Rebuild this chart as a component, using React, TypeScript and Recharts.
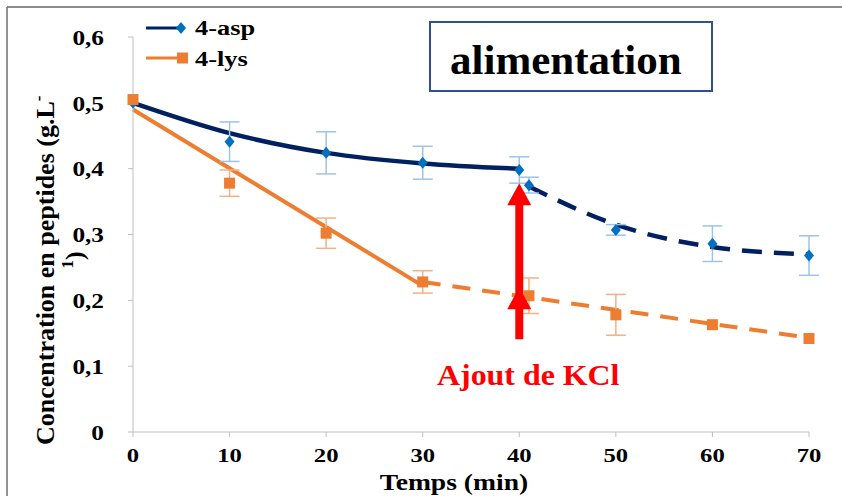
import React from 'react';
import {
  ComposedChart,
  ErrorBar,
  Line,
  ReferenceDot,
  ReferenceLine,
  Scatter,
  XAxis,
  YAxis,
} from 'recharts';

const timeTicks = [0, 10, 20, 30, 40, 50, 60, 70];
const concTicks = [0, 0.1, 0.2, 0.3, 0.4, 0.5, 0.6];

// mesures 4-asp
const aspTimes = [0, 10, 20, 30, 40, 41, 50, 60, 70];
const aspValues = [0.5, 0.441, 0.424, 0.409, 0.398, 0.375, 0.307, 0.286, 0.268];
const aspErrors = [0, 0.03, 0.032, 0.025, 0.02, 0.012, 0.008, 0.027, 0.03];

// mesures 4-lys
const lysTimes = [0, 10, 20, 30, 41, 50, 60, 70];
const lysValues = [0.505, 0.378, 0.302, 0.228, 0.207, 0.178, 0.163, 0.142];
const lysErrors = [0, 0.02, 0.023, 0.017, 0.027, 0.031, 0, 0];

// courbes de tendance
const aspFitTimes = [0, 10, 20, 30, 40];
const aspFitValues = [0.5, 0.454, 0.424, 0.408, 0.4];
const aspFitDashTimes = [41, 50, 60, 70];
const aspFitDashValues = [0.373, 0.315, 0.281, 0.27];
const lysFitTimes = [0, 30];
const lysFitValues = [0.49, 0.222];
const lysFitDashTimes = [30, 70];
const lysFitDashValues = [0.228, 0.143];

// flèche "Ajout de KCl"
const kclTime = 40;
const kclArrowBottom = 0.141;
const kclArrowTop = 0.36;
const kclArrowHeads = [0.378, 0.22];

const FONT = "'Liberation Serif', 'Times New Roman', serif";
const NAVY = '#002060';
const BLUE = '#0070C0';
const ORANGE = '#ED7D31';

const toPoints = (ts: number[], vs: number[], errs?: number[]) =>
  ts.map((t, i) => ({ t, c: vs[i], err: errs ? errs[i] : 0 }));

const aspPoints = toPoints(aspTimes, aspValues, aspErrors);
const lysPoints = toPoints(lysTimes, lysValues, lysErrors);
const aspFit = toPoints(aspFitTimes, aspFitValues);
const aspFitDash = toPoints(aspFitDashTimes, aspFitDashValues);
const lysFit = toPoints(lysFitTimes, lysFitValues);
const lysFitDash = toPoints(lysFitDashTimes, lysFitDashValues);

const fmt = (v: number) => String(Math.round(v * 10) / 10).replace('.', ',');

function XTick({ x, y, payload }: any) {
  return (
    <text
      transform={`translate(${x},${y}) scale(1.3,1)`}
      textAnchor="middle"
      dy="0.71em"
      fontFamily={FONT}
      fontWeight="bold"
      fontSize={19}
      fill="#000"
    >
      {fmt(payload.value)}
    </text>
  );
}

function YTick({ x, y, payload }: any) {
  return (
    <text
      transform={`translate(${x},${y}) scale(1.15,1)`}
      textAnchor="end"
      dy="0.355em"
      fontFamily={FONT}
      fontWeight="bold"
      fontSize={22}
      fill="#000"
    >
      {fmt(payload.value)}
    </text>
  );
}

const Diamond = ({ cx, cy }: any) => (
  <path d={`M${cx},${cy - 6}L${cx + 5},${cy}L${cx},${cy + 6}L${cx - 5},${cy}Z`} fill={BLUE} />
);

const Square = ({ cx, cy }: any) => (
  <rect x={cx - 5.5} y={cy - 5.5} width={11} height={11} fill={ORANGE} />
);

const ArrowHead = ({ cx, cy }: any) => (
  <path d={`M${cx},${cy}L${cx + 12},${cy + 22}L${cx - 12},${cy + 22}Z`} fill="#FF0000" />
);

export default function App() {
  return (
    <div style={{ position: 'absolute', left: 0, top: 0, width: 842, height: 496, background: '#fff' }}>
      <ComposedChart
        width={842}
        height={496}
        margin={{ top: 37, right: 33, bottom: 24, left: 73 }}
      >
        <XAxis
          type="number"
          dataKey="t"
          domain={[0, 70]}
          ticks={timeTicks}
          height={40}
          stroke="#BFBFBF"
          tickSize={5}
          tickMargin={12}
          tick={<XTick />}
        />
        <YAxis
          type="number"
          domain={[0, 0.6]}
          ticks={concTicks}
          width={60}
          stroke="#BFBFBF"
          tickSize={5}
          tickMargin={24}
          tick={<YTick />}
        />

        <Line data={aspFit} dataKey="c" type="monotone" stroke={NAVY} strokeWidth={4.5} dot={false} activeDot={false} isAnimationActive={false} />
        <Line data={aspFitDash} dataKey="c" type="monotone" stroke={NAVY} strokeWidth={4.5} strokeDasharray="20 12" dot={false} activeDot={false} isAnimationActive={false} />
        <Line data={lysFit} dataKey="c" type="linear" stroke={ORANGE} strokeWidth={4} dot={false} activeDot={false} isAnimationActive={false} />
        <Line data={lysFitDash} dataKey="c" type="linear" stroke={ORANGE} strokeWidth={4} strokeDasharray="18 12" dot={false} activeDot={false} isAnimationActive={false} />

        <Scatter data={aspPoints} dataKey="c" shape={Diamond} isAnimationActive={false}>
          <ErrorBar dataKey="err" direction="y" width={10} stroke="#9DC3E6" strokeWidth={1.5} />
        </Scatter>
        <Scatter data={lysPoints} dataKey="c" shape={Square} isAnimationActive={false}>
          <ErrorBar dataKey="err" direction="y" width={10} stroke="#F4B183" strokeWidth={1.5} />
        </Scatter>

        <ReferenceLine
          segment={[
            { x: kclTime, y: kclArrowBottom },
            { x: kclTime, y: kclArrowTop },
          ]}
          stroke="#FF0000"
          strokeWidth={8}
        />
        {kclArrowHeads.map((v) => (
          <ReferenceDot key={v} x={kclTime} y={v} shape={ArrowHead} />
        ))}
      </ComposedChart>

      <svg
        width={842}
        height={496}
        style={{ position: 'absolute', left: 0, top: 0, pointerEvents: 'none' }}
        fontFamily={FONT}
        fontWeight="bold"
      >
        <line x1={7} y1={7} x2={842} y2={7} stroke="#8C8C8C" strokeWidth={2} />
        <line x1={7} y1={7} x2={7} y2={496} stroke="#6F6F6F" strokeWidth={1.5} />

        {/* légende */}
        <line x1={146} y1={28} x2={181} y2={28} stroke={NAVY} strokeWidth={3} />
        <path d="M181,22L186,28L181,34L176,28Z" fill={BLUE} />
        <text transform="translate(195,35) scale(1.2,1)" fontSize={22} fill="#000">4-asp</text>
        <line x1={146} y1={58} x2={180} y2={58} stroke={ORANGE} strokeWidth={3} />
        <rect x={177} y={52.5} width={11} height={11} fill={ORANGE} />
        <text transform="translate(195,66) scale(1.2,1)" fontSize={22} fill="#000">4-lys</text>

        {/* encadré */}
        <rect x={430} y={22} width={282} height={69} fill="#fff" stroke="#2F528F" strokeWidth={2} />
        <text x={450} y={74} fontSize={43} fill="#000">alimentation</text>

        <text transform="translate(437,385) scale(1.1,1)" fontSize={29} fill="#FF0000">Ajout de KCl</text>

        <text transform="translate(454,490) scale(1.2,1)" textAnchor="middle" fontSize={23} fill="#000">Temps (min)</text>

        <text transform="translate(54,445) rotate(-90)" fontSize={26} fill="#000">
          Concentration en peptides (g.L
          <tspan fontSize={17} dy={-10}>-</tspan>
        </text>
        <text transform="translate(83,260) rotate(-90)" textAnchor="middle" fontSize={26} fill="#000">
          <tspan fontSize={17} dy={-10}>1</tspan>
          <tspan dy={10}>)</tspan>
        </text>
      </svg>
    </div>
  );
}
